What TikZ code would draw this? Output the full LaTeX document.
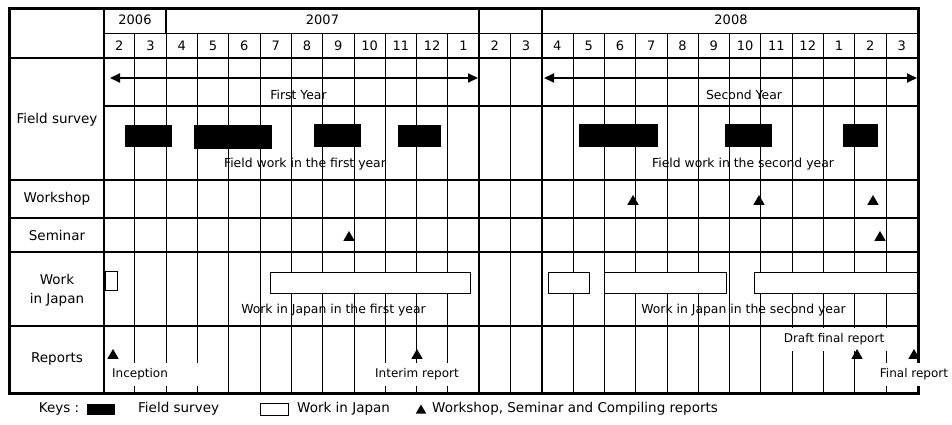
\documentclass[tikz,border=0pt]{standalone}
\usepackage{fontspec}
\setmainfont{DejaVu Sans}
\usetikzlibrary{arrows.meta,shapes.geometric}

\begin{document}
\begin{tikzpicture}[x=1pt, y=-1pt,
    frameln/.style={line width=3pt},
    rowln/.style={line width=2pt},
    gridln/.style={line width=0.8pt},
    majorln/.style={line width=1.8pt},
    rowlbl/.style={font=\fontsize{13.5}{19}\selectfont, align=center, inner sep=0pt},
    headlbl/.style={font=\fontsize{13}{15}\selectfont, inner sep=0pt},
    inlbl/.style={font=\fontsize{12.4}{14}\selectfont, inner sep=0pt},
    replbl/.style={font=\fontsize{12}{14}\selectfont, fill=white, inner sep=3pt, minimum height=23pt},
    fieldbar/.style={fill=black},
    jpbox/.style={draw, fill=white, line width=1pt},
    evt/.style={regular polygon, regular polygon sides=3, fill=black, inner sep=0pt, minimum size=13pt},
    yeararrow/.style={line width=1.8pt, {Triangle[length=10pt,width=9pt]}-{Triangle[length=10pt,width=9pt]}},
    keylbl/.style={font=\fontsize{13.5}{15}\selectfont, inner sep=0pt}]
  \useasboundingbox (0,0) rectangle (952,425);

  % month grid
  \foreach \i in {1,...,25}
    \draw[gridln] ({103.5+31.3*\i},33) -- ({103.5+31.3*\i},393);
  \foreach \i in {12,14}
    \draw[majorln] ({103.5+31.3*\i},8) -- ({103.5+31.3*\i},393);
  \draw[majorln] ({103.5+31.3*2},8) -- ({103.5+31.3*2},33);
  \draw[majorln] (104,8) -- (104,393);

  % row separators
  \draw[gridln] (104,33) -- (918,33);
  \foreach \y in {58,180,218,252}
    \draw[rowln] (9,\y) -- (918,\y);
  \draw[rowln] (104,106) -- (918,106);

  % header
  \node[headlbl] (y2006) at (135,20) {2006};
  \node[headlbl] (y2007) at (322.5,20) {2007};
  \node[headlbl] (y2008) at (731,20) {2008};
  \foreach \m [count=\i from 0] in {2,3,4,5,6,7,8,9,10,11,12,1,2,3,4,5,6,7,8,9,10,11,12,1,2,3}
    \node[headlbl] (m\i) at ({103.5+31.3*(\i+0.5)},46) {\m};

  % row labels
  \node[rowlbl] (fieldlbl) at (57,120) {Field survey};
  \node[rowlbl] (wslbl) at (57,199) {Workshop};
  \node[rowlbl] (semlbl) at (57,235) {Seminar};
  \node[rowlbl] (jplbl) at (57,290) {Work\\in Japan};
  \node[rowlbl] (replbl) at (57,359) {Reports};

  % project years
  \coordinate (fy-l) at (110,78);
  \coordinate (fy-r) at (478,78);
  \coordinate (sy-l) at (544,78);
  \coordinate (sy-r) at (917,78);
  \draw[yeararrow] (fy-l) -- (fy-r);
  \draw[yeararrow] (sy-l) -- (sy-r);
  \node[inlbl] (fylbl) at (298.5,95) {First Year};
  \node[inlbl] (sylbl) at (744,95) {Second Year};

  % field survey
  \fill[fieldbar] (125,124.5) rectangle (172,147);
  \fill[fieldbar] (194,124.5) rectangle (272,148.5);
  \fill[fieldbar] (314,124) rectangle (361,147);
  \fill[fieldbar] (398,124.5) rectangle (441,147);
  \fill[fieldbar] (579,124) rectangle (658,147);
  \fill[fieldbar] (725,124) rectangle (772,147);
  \fill[fieldbar] (843,124) rectangle (878,147);
  \node[inlbl] (fw1) at (305,164) {Field work in the first year};
  \node[inlbl] (fw2) at (743,164) {Field work in the second year};

  % workshops and seminars
  \foreach \x [count=\i] in {633,759,873}
    \node[evt] (ws\i) at (\x,201.5) {};
  \foreach \x [count=\i] in {349,880}
    \node[evt] (sem\i) at (\x,237.5) {};

  % work in Japan
  \draw[jpbox] (105.5,271) rectangle (117,290);
  \draw[jpbox] (270,272) rectangle (470,293);
  \draw[jpbox] (548,272) rectangle (589,293);
  \draw[jpbox] (604,272) rectangle (726,293);
  \draw[jpbox] (754,272) rectangle (917,293);
  \node[inlbl] (wj1) at (333.5,310) {Work in Japan in the first year};
  \node[inlbl] (wj2) at (743.5,310) {Work in Japan in the second year};

  % outer frame
  \draw[rowln] (9,326) -- (918,326);
  \draw[frameln] (9,8.5) rectangle (918.5,393);

  % reports
  \node[replbl, anchor=west, text width=90pt, align=left] (incep) at (109,374) {Inception};
  \node[replbl] (interim) at (417,374) {Interim report};
  \node[replbl, minimum width=120pt] (draft) at (834,339) {Draft final report};
  \node[replbl] (final) at (914,374) {Final report};
  \draw[rowln] (9,326) -- (918,326);
  \foreach \x/\n in {113/r1,417/r2,857/r3,914/r4}
    \node[evt] (\n) at (\x,355.5) {};

  % keys
  \node[keylbl] (keys) at (59,409) {Keys :};
  \fill[fieldbar] (87,403.5) rectangle (115,414.5);
  \node[keylbl, anchor=west] (keyfield) at (138,409) {Field survey};
  \draw[jpbox] (260,403) rectangle (288,415);
  \node[keylbl, anchor=west] (keyjp) at (297,409) {Work in Japan};
  \node[evt, minimum size=12pt] (keyevt) at (421,410.5) {};
  \node[keylbl, anchor=west] (keyrep) at (432,409) {Workshop, Seminar and Compiling reports};
\end{tikzpicture}
\end{document}
